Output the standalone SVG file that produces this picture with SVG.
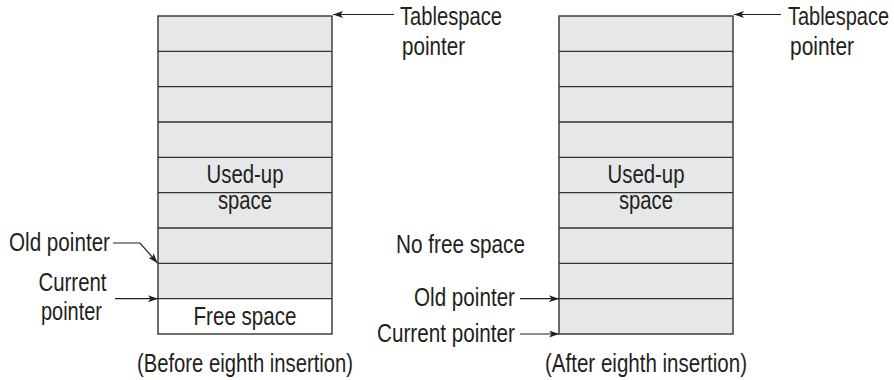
<svg xmlns="http://www.w3.org/2000/svg" width="894" height="380" viewBox="0 0 894 380">
  <style>
    .t { font-family: "Liberation Sans", Arial, sans-serif; font-size: 25px; fill: #231f20; }
    .m { text-anchor: middle; }
    .e { text-anchor: end; }
    .used { fill: #e6e7e8; stroke: none; }
    .free { fill: #ffffff; stroke: none; }
    .frame { fill: none; stroke: #333333; stroke-width: 1.4; }
    .div { stroke: #333333; stroke-width: 1.4; }
    .conn { fill: none; stroke: #231f20; stroke-width: 1.2; marker-end: url(#ah); }
  </style>
  <defs>
    <marker id="ah" markerUnits="userSpaceOnUse" markerWidth="11" markerHeight="7" refX="10" refY="3.5" orient="auto">
      <path d="M0,0 L10,3.5 L0,7 L2.5,3.5 z" fill="#231f20"/>
    </marker>
  </defs>

  <g id="box-before">
    <rect class="used" x="158" y="16" width="174" height="282.67"/>
    <rect class="free" x="158" y="298.67" width="174" height="35.33"/>
    <path class="div" d="M158,51.33H332M158,86.67H332M158,122H332M158,157.33H332M158,192.67H332M158,228H332M158,263.33H332M158,298.67H332"/>
    <rect class="frame" x="158" y="16" width="174" height="318"/>
    <text class="t m" x="245" y="183" textLength="77" lengthAdjust="spacingAndGlyphs">Used-up</text>
    <text class="t m" x="245" y="209" textLength="54" lengthAdjust="spacingAndGlyphs">space</text>
    <text class="t m" x="245" y="325" textLength="103" lengthAdjust="spacingAndGlyphs">Free space</text>
  </g>

  <g id="box-after">
    <rect class="used" x="559" y="16" width="174" height="318"/>
    <path class="div" d="M559,51.33H733M559,86.67H733M559,122H733M559,157.33H733M559,192.67H733M559,228H733M559,263.33H733M559,298.67H733"/>
    <rect class="frame" x="559" y="16" width="174" height="318"/>
    <text class="t m" x="646" y="183" textLength="77" lengthAdjust="spacingAndGlyphs">Used-up</text>
    <text class="t m" x="646" y="209" textLength="54" lengthAdjust="spacingAndGlyphs">space</text>
  </g>

  <g id="label-tablespace-before">
    <text class="t" x="400" y="24.5" textLength="102" lengthAdjust="spacingAndGlyphs">Tablespace</text>
    <text class="t" x="402" y="55" textLength="63" lengthAdjust="spacingAndGlyphs">pointer</text>
  </g>
  <g id="label-tablespace-after">
    <text class="t" x="788" y="24.5" textLength="101" lengthAdjust="spacingAndGlyphs">Tablespace</text>
    <text class="t" x="790" y="55" textLength="64" lengthAdjust="spacingAndGlyphs">pointer</text>
  </g>
  <g id="label-old-before">
    <text class="t e" x="110" y="250.5" textLength="101" lengthAdjust="spacingAndGlyphs">Old pointer</text>
  </g>
  <g id="label-current-before">
    <text class="t m" x="72.5" y="290.5" textLength="68" lengthAdjust="spacingAndGlyphs">Current</text>
    <text class="t m" x="71.5" y="320" textLength="61" lengthAdjust="spacingAndGlyphs">pointer</text>
  </g>
  <g id="label-nofree">
    <text class="t" x="396" y="253" textLength="129" lengthAdjust="spacingAndGlyphs">No free space</text>
  </g>
  <g id="label-old-after">
    <text class="t e" x="515" y="306" textLength="101" lengthAdjust="spacingAndGlyphs">Old pointer</text>
  </g>
  <g id="label-current-after">
    <text class="t e" x="515" y="342" textLength="138" lengthAdjust="spacingAndGlyphs">Current pointer</text>
  </g>
  <g id="caption-before">
    <text class="t m" x="245" y="372" textLength="216" lengthAdjust="spacingAndGlyphs">(Before eighth insertion)</text>
  </g>
  <g id="caption-after">
    <text class="t m" x="646" y="372" textLength="202" lengthAdjust="spacingAndGlyphs">(After eighth insertion)</text>
  </g>

  <g id="connectors">
    <path class="conn" d="M394,14.5H333"/>
    <path class="conn" d="M781,14.5H734"/>
    <path class="conn" d="M113,243H140L157.5,263"/>
    <path class="conn" d="M115,298.67H158"/>
    <path class="conn" d="M520,298.67H559"/>
    <path class="conn" d="M520,334H559"/>
  </g>
</svg>
